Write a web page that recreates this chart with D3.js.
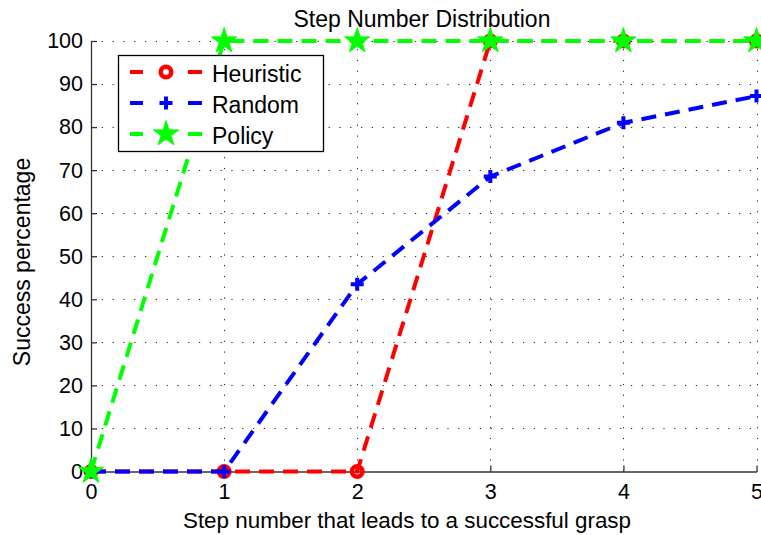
<!DOCTYPE html>
<html><head><meta charset="utf-8">
<script src="https://cdn.jsdelivr.net/npm/d3@7"></script>
<style>
html,body{margin:0;padding:0;background:#fff;}
text{font-family:"Liberation Sans",Arial,Helvetica,sans-serif;fill:#000;}
</style></head>
<body>
<svg id="chart" width="761" height="535"></svg>
<script>
const steps = [0, 1, 2, 3, 4, 5];
const heuristic = [0, 0, 0, 100, 100, 100];
const random = [0, 0, 43.5, 68.5, 81, 87.2];
const policy = [0, 100, 100, 100, 100, 100];
const xTicks = [0, 1, 2, 3, 4, 5];
const yTicks = [0, 10, 20, 30, 40, 50, 60, 70, 80, 90, 100];
const seriesNames = ["Heuristic", "Random", "Policy"];

const series = [
  {name: seriesNames[0], values: heuristic, color: "#ff0000", marker: "circle"},
  {name: seriesNames[1], values: random, color: "#0000ff", marker: "plus"},
  {name: seriesNames[2], values: policy, color: "#00ff00", marker: "star"}
];

const svg = d3.select("#chart");
const x = d3.scaleLinear().domain([0, 5]).range([91, 756.5]);
const y = d3.scaleLinear().domain([0, 100]).range([471.5, 41]);

// grid
const grid = svg.append("g");
grid.selectAll("line.h").data(yTicks.filter(d => d > 0)).enter().append("line")
  .attr("x1", x(0)).attr("x2", x(5)).attr("y1", d => Math.round(y(d)) + 0.5).attr("y2", d => Math.round(y(d)) + 0.5)
  .attr("stroke", "#222").attr("stroke-width", 1).attr("stroke-dasharray", "1.2,9.6");
grid.selectAll("line.v").data(xTicks.filter(d => d > 0)).enter().append("line")
  .attr("x1", d => Math.round(x(d)) + 0.5).attr("x2", d => Math.round(x(d)) + 0.5).attr("y1", y(0)).attr("y2", y(100))
  .attr("stroke", "#222").attr("stroke-width", 1).attr("stroke-dasharray", "1.2,9.6");

// axes
const xAxis = d3.axisBottom(x).tickValues(xTicks).tickSizeInner(-6).tickSizeOuter(0).tickPadding(12).tickFormat(d3.format("d"));
const yAxis = d3.axisLeft(y).tickValues(yTicks).tickSizeInner(-6).tickSizeOuter(0).tickPadding(8).tickFormat(d3.format("d"));
const gx = svg.append("g").attr("transform", `translate(0,${y(0)})`).call(xAxis);
const gy = svg.append("g").attr("transform", `translate(${x(0)},0)`).call(yAxis);
[gx, gy].forEach(g => {
  g.select(".domain").attr("stroke", "#333").attr("stroke-width", 1.3);
  g.selectAll(".tick line").attr("stroke", "#333").attr("stroke-width", 1.3);
  g.selectAll(".tick text").attr("font-size", 21.5).attr("font-family", "Liberation Sans, Arial, sans-serif").attr("fill", "#000");
});
gx.selectAll(".tick text").attr("dy", "0.71em");

// markers
const starPath = d3.symbol().type(d3.symbolStar).size(200)();
function drawMarker(g, type, color, cx, cy) {
  if (type === "circle") {
    g.append("circle").attr("cx", cx).attr("cy", cy).attr("r", 5.3)
      .attr("fill", "none").attr("stroke", color).attr("stroke-width", 4.6);
  } else if (type === "plus") {
    g.append("path").attr("d", `M${cx-6.5},${cy}H${cx+6.5}M${cx},${cy-6.5}V${cy+6.5}`)
      .attr("stroke", color).attr("stroke-width", 4).attr("fill", "none");
  } else {
    g.append("path").attr("d", starPath).attr("transform", `translate(${cx},${cy})`)
      .attr("fill", color).attr("stroke", color).attr("stroke-width", 1);
  }
}

const line = d3.line().x((d, i) => x(steps[i])).y(d => y(d));
const plot = svg.append("g");
series.forEach(s => {
  const g = plot.append("g");
  g.append("path").datum(s.values).attr("d", line).attr("fill", "none")
    .attr("stroke", s.color).attr("stroke-width", 4).attr("stroke-dasharray", "15,9");
  s.values.forEach((v, i) => drawMarker(g, s.marker, s.color, x(steps[i]), y(v)));
});

// title and labels
svg.append("text").attr("x", 422).attr("y", 27).attr("text-anchor", "middle").attr("font-size", 23).text("Step Number Distribution");
svg.append("text").attr("x", 407).attr("y", 528).attr("text-anchor", "middle").attr("font-size", 22.4).text("Step number that leads to a successful grasp");
svg.append("text").attr("transform", "translate(30,262) rotate(-90)").attr("text-anchor", "middle").attr("font-size", 23).text("Success percentage");

// legend
const lg = svg.append("g");
lg.append("rect").attr("x", 118.5).attr("y", 55.5).attr("width", 205).attr("height", 96)
  .attr("fill", "#fff").attr("stroke", "#000").attr("stroke-width", 1.3);
series.forEach((s, i) => {
  const cy = 72 + i * 31;
  lg.append("line").attr("x1", 130).attr("x2", 202).attr("y1", cy).attr("y2", cy)
    .attr("stroke", s.color).attr("stroke-width", 4).attr("stroke-dasharray", "13,45,14");
  drawMarker(lg, s.marker, s.color, 166, cy);
  lg.append("text").attr("x", 212).attr("y", cy + 10).attr("font-size", 23).text(s.name);
});
</script>
</body></html>
